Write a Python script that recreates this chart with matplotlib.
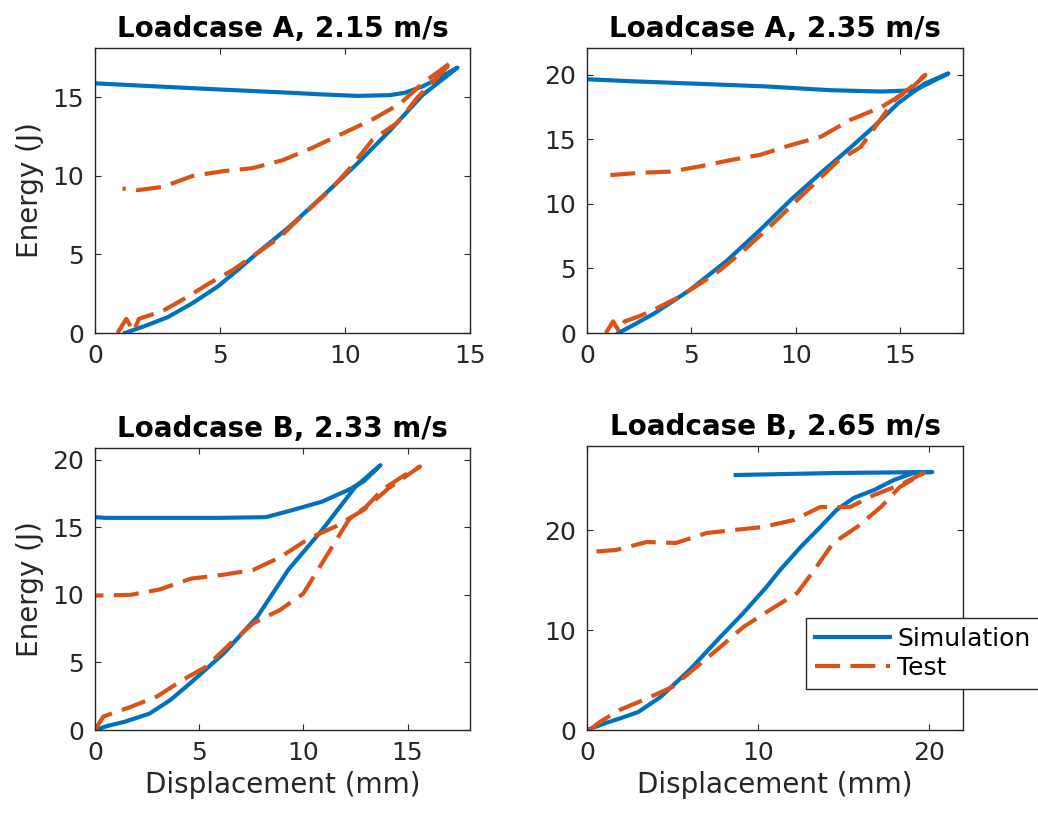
import matplotlib
matplotlib.use("Agg")
import matplotlib.pyplot as plt

# Loadcase A, 2.15 m/s
sim_a1_x = [1.2, 2.0, 2.9, 3.9, 4.9, 5.7, 6.5, 7.8, 9.1, 10.5, 11.8, 13.1, 14.5,
            13.6, 13.1, 12.4, 11.8, 10.5, 9.0, 7.8, 5.1, 2.5, 0.0]
sim_a1_y = [0.0, 0.45, 1.0, 1.9, 2.95, 4.0, 5.1, 6.8, 8.7, 10.8, 12.9, 15.15, 16.9,
            16.1, 15.7, 15.3, 15.15, 15.1, 15.2, 15.3, 15.5, 15.7, 15.9]
test_a1_x = [0.9, 1.25, 1.55, 1.75, 2.7, 3.7, 4.5, 5.5, 6.5, 7.4, 8.3, 9.4, 10.2, 11.1,
             12.1, 12.9, 13.7, 14.3, 13.1, 12.2, 11.1, 9.9, 8.7, 7.5, 6.3, 5.1, 3.9,
             2.7, 1.7, 1.1]
test_a1_y = [0.0, 0.9, 0.1, 0.9, 1.4, 2.3, 3.1, 4.0, 5.1, 6.1, 7.5, 9.1, 10.5, 12.3,
             13.4, 15.0, 16.3, 17.3, 15.9, 14.6, 13.6, 12.7, 11.8, 11.0, 10.5, 10.3,
             10.0, 9.3, 9.1, 9.2]

# Loadcase A, 2.35 m/s
sim_a2_x = [1.5, 2.2, 3.2, 4.9, 6.7, 8.3, 9.75, 11.2, 12.5, 13.75, 14.9, 16.15, 17.3,
            15.7, 14.1, 11.7, 8.5, 5.3, 2.05, 0.0]
sim_a2_y = [0.0, 0.6, 1.5, 3.3, 5.6, 8.0, 10.3, 12.4, 14.2, 16.0, 17.8, 19.3, 20.1,
            18.8, 18.7, 18.8, 19.1, 19.3, 19.5, 19.65]
test_a2_x = [0.9, 1.25, 1.55, 1.8, 2.5, 3.2, 4.3, 5.3, 6.4, 7.5, 8.6, 9.75, 10.9, 12.0,
             13.1, 13.9, 14.7, 15.7, 16.2, 15.5, 14.1, 12.6, 11.2, 9.75, 8.3, 6.9,
             5.4, 4.0, 2.5, 0.9]
test_a2_y = [0.0, 0.9, 0.1, 0.9, 1.3, 1.8, 2.7, 3.7, 4.9, 6.4, 8.0, 9.8, 11.6, 13.3,
             14.4, 16.2, 18.0, 19.3, 20.0, 18.9, 17.5, 16.5, 15.2, 14.55, 13.8, 13.4,
             12.9, 12.5, 12.4, 12.2]

# Loadcase B, 2.33 m/s
sim_b1_x = [0.0, 0.6, 1.4, 2.6, 3.6, 4.6, 6.2, 7.8, 9.3, 10.9, 12.5, 13.7,
            12.9, 12.2, 10.9, 9.3, 8.2, 6.0, 3.0, 0.5, 0.0]
sim_b1_y = [0.0, 0.3, 0.6, 1.2, 2.2, 3.5, 5.7, 8.4, 11.9, 14.8, 18.0, 19.6,
            18.4, 17.8, 16.9, 16.2, 15.75, 15.7, 15.7, 15.7, 15.75]
test_b1_x = [0.0, 0.4, 1.7, 3.0, 4.2, 5.35, 6.5, 7.6, 8.9, 10.0, 10.8, 11.6, 12.2,
             13.0, 13.8, 14.8, 15.6, 14.1, 12.9, 11.6, 10.3, 8.9, 7.6, 6.2, 4.6, 3.1,
             1.7, 0.0]
test_b1_y = [0.0, 1.0, 1.7, 2.5, 3.7, 4.7, 6.4, 7.9, 8.9, 10.1, 12.1, 14.1, 15.6,
             16.5, 17.8, 18.8, 19.5, 17.9, 16.3, 15.1, 14.2, 12.8, 11.85, 11.5, 11.2,
             10.4, 10.0, 9.95]

# Loadcase B, 2.65 m/s
sim_b2_x = [0.0, 1.1, 2.0, 3.0, 4.3, 6.0, 7.8, 9.15, 10.5, 11.3, 12.5, 13.65, 14.6,
            15.6, 16.8, 17.95, 19.1, 20.2, 14.6, 8.7]
sim_b2_y = [0.0, 0.7, 1.2, 1.8, 3.3, 6.0, 9.3, 11.7, 14.3, 16.0, 18.3, 20.3, 22.0,
            23.2, 24.0, 25.0, 25.7, 25.8, 25.7, 25.5]
test_b2_x = [0.15, 0.75, 1.9, 3.3, 5.0, 6.4, 7.8, 9.15, 10.7, 12.3, 13.3, 14.4, 15.8,
             17.2, 18.3, 19.7, 18.3, 16.8, 15.4, 13.65, 12.1, 10.3, 8.6, 7.0, 5.2,
             3.5, 1.7, 0.15]
test_b2_y = [0.0, 0.8, 2.0, 3.0, 4.3, 6.3, 8.3, 10.3, 12.0, 13.7, 16.0, 18.7, 20.3,
             22.3, 24.3, 25.7, 24.5, 23.5, 22.3, 22.3, 21.0, 20.3, 20.0, 19.7, 18.7,
             18.8, 18.0, 17.8]

titles = ["Loadcase A, 2.15 m/s", "Loadcase A, 2.35 m/s",
          "Loadcase B, 2.33 m/s", "Loadcase B, 2.65 m/s"]

blue = "#0072BD"
orange = "#D95319"
dark = "#262626"

fig = plt.figure(figsize=(10.38, 8.14), dpi=100)

W, H = 1038.0, 814.0
# pixel boxes: left, top, right, bottom
boxes = [(95, 48, 470, 333), (587, 48, 963, 333),
         (95, 448, 470, 730), (587, 446, 963, 730)]
data = [(sim_a1_x, sim_a1_y, test_a1_x, test_a1_y),
        (sim_a2_x, sim_a2_y, test_a2_x, test_a2_y),
        (sim_b1_x, sim_b1_y, test_b1_x, test_b1_y),
        (sim_b2_x, sim_b2_y, test_b2_x, test_b2_y)]
xlims = [(0, 15), (0, 18), (0, 18), (0, 22)]
ylims = [(0, 18.15), (0, 22.07), (0, 20.87), (0, 28.4)]
xticks = [[0, 5, 10, 15], [0, 5, 10, 15], [0, 5, 10, 15], [0, 10, 20]]
yticks = [[0, 5, 10, 15], [0, 5, 10, 15, 20], [0, 5, 10, 15, 20], [0, 10, 20]]

axes = []
for i, (l, t, r, b) in enumerate(boxes):
    ax = fig.add_axes([l / W, 1 - b / H, (r - l) / W, (b - t) / H])
    sx, sy, tx, ty = data[i]
    ax.plot(sx, sy, color=blue, lw=3, label="Simulation")
    ax.plot(tx, ty, color=orange, lw=3, dashes=(6, 2.5), label="Test")
    ax.set_xlim(*xlims[i])
    ax.set_ylim(*ylims[i])
    ax.set_xticks(xticks[i])
    ax.set_yticks(yticks[i])
    ax.tick_params(direction="in", top=True, right=True, length=4, width=0.8,
                   labelsize=18, colors=dark, pad=8)
    for s in ax.spines.values():
        s.set_color(dark)
        s.set_linewidth(1.0)
    ax.set_title(titles[i], fontsize=20, fontweight="bold", pad=8)
    if i % 2 == 0:
        ax.set_ylabel("Energy (J)", fontsize=20, color=dark, labelpad=6)
    if i >= 2:
        ax.set_xlabel("Displacement (mm)", fontsize=20, color=dark, labelpad=4)
    axes.append(ax)

leg = axes[3].legend(loc="upper left", bbox_to_anchor=(806 / W, 1 - 618 / H),
                     bbox_transform=fig.transFigure, borderaxespad=0,
                     fontsize=18, handlelength=3.0, handletextpad=0.3,
                     labelspacing=0.2, borderpad=0.35, fancybox=False,
                     framealpha=1, edgecolor=dark)
leg.get_frame().set_linewidth(1.0)

fig.savefig("out.png", dpi=100)
